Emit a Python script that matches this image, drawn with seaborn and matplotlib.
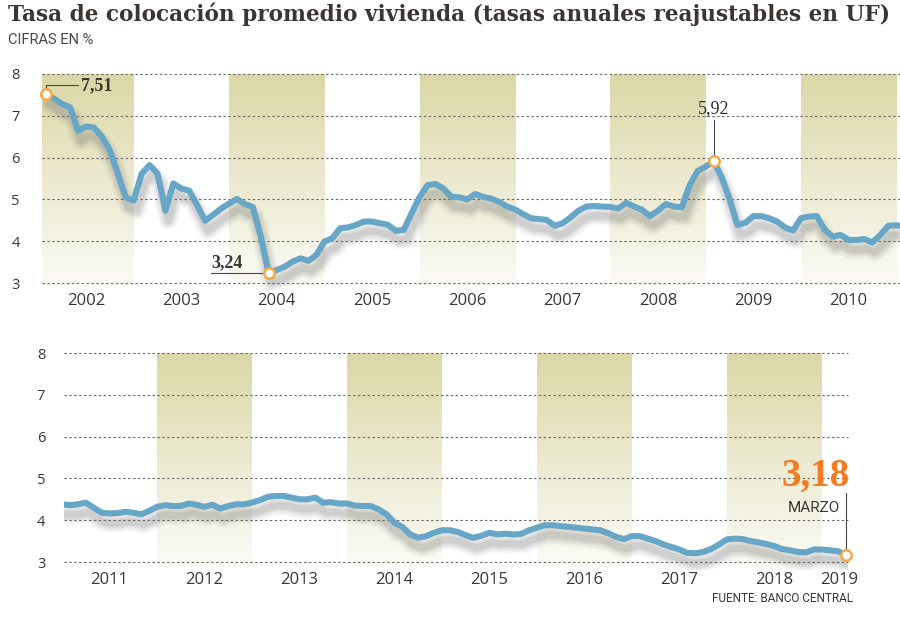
import numpy as np
import pandas as pd
import matplotlib
matplotlib.use("Agg")
import matplotlib.pyplot as plt
import seaborn as sns
from matplotlib import patheffects as pe
from matplotlib.colors import LinearSegmentedColormap

# monthly average mortgage rate (UF), Jan 2002 - Dec 2010
rates_2002_2010 = [
    7.51, 7.41, 7.28, 7.20, 6.64, 6.74, 6.72, 6.50, 6.18, 5.62, 5.05, 4.97,
    5.61, 5.82, 5.62, 4.73, 5.38, 5.26, 5.21, 4.86, 4.49, 4.63, 4.78, 4.90,
    5.01, 4.89, 4.82, 4.11, 3.24, 3.31, 3.39, 3.51, 3.59, 3.53, 3.67, 3.99,
    4.07, 4.31, 4.33, 4.39, 4.47, 4.47, 4.43, 4.39, 4.25, 4.27, 4.67, 5.06,
    5.34, 5.37, 5.26, 5.06, 5.05, 5.00, 5.13, 5.06, 5.02, 4.94, 4.83, 4.76,
    4.65, 4.55, 4.53, 4.51, 4.37, 4.43, 4.57, 4.73, 4.83, 4.84, 4.83, 4.82,
    4.78, 4.92, 4.83, 4.75, 4.60, 4.73, 4.89, 4.83, 4.81, 5.34, 5.68, 5.78,
    5.92, 5.54, 5.02, 4.39, 4.44, 4.60, 4.60, 4.55, 4.47, 4.33, 4.25, 4.55,
    4.59, 4.60, 4.27, 4.11, 4.15, 4.03, 4.03, 4.05, 3.97, 4.15, 4.37, 4.38,
]
# Jan 2011 - Mar 2019
rates_2011_2019 = [
    4.36, 4.38, 4.42, 4.30, 4.18, 4.16, 4.17, 4.20, 4.18, 4.14, 4.22, 4.32,
    4.36, 4.34, 4.34, 4.40, 4.37, 4.32, 4.37, 4.28, 4.34, 4.38, 4.38, 4.42,
    4.48, 4.56, 4.58, 4.58, 4.54, 4.50, 4.50, 4.54, 4.42, 4.43, 4.40, 4.40,
    4.35, 4.34, 4.34, 4.26, 4.14, 3.94, 3.84, 3.66, 3.58, 3.62, 3.70, 3.76,
    3.76, 3.72, 3.64, 3.58, 3.63, 3.70, 3.66, 3.68, 3.66, 3.67, 3.76, 3.82,
    3.88, 3.88, 3.86, 3.84, 3.82, 3.80, 3.78, 3.76, 3.69, 3.60, 3.55, 3.62,
    3.62, 3.56, 3.50, 3.42, 3.36, 3.30, 3.22, 3.21, 3.24, 3.31, 3.42, 3.54,
    3.56, 3.55, 3.50, 3.47, 3.43, 3.38, 3.31, 3.28, 3.24, 3.23, 3.30, 3.30,
    3.28, 3.26, 3.18,
]
years_top = [2002, 2003, 2004, 2005, 2006, 2007, 2008, 2009, 2010]
years_bottom = [2011, 2012, 2013, 2014, 2015, 2016, 2017, 2018, 2019]
shaded_top = [2002, 2004, 2006, 2008, 2010]
shaded_bottom = [2012, 2014, 2016, 2018]
yticks = [3, 4, 5, 6, 7, 8]

months = pd.date_range("2002-01-01", periods=len(rates_2002_2010) + len(rates_2011_2019), freq="MS")
df = pd.DataFrame({
    "t": months.year + months.month / 12.0,
    "rate": rates_2002_2010 + rates_2011_2019,
})
top = df.iloc[:109]
bottom = df.iloc[107:]

BLUE = "#67a6c6"
DARK = "#3b3632"
ORANGE_EDGE = "#f6a846"
band_cmap = LinearSegmentedColormap.from_list("band", ["#fbfbf6", "#dbd7a6"])

sns.set_style("white")
plt.rcParams["font.family"] = ["Open Sans", "DejaVu Sans"]

fig = plt.figure(figsize=(9, 6.18), dpi=100)
ax_top = fig.add_axes([0.0467, 0.5285, 0.9533, 0.3518])
ax_bot = fig.add_axes([0.0711, 0.0770, 0.8706, 0.3518])

shadow = [
    pe.SimpleLineShadow(offset=(2, -7), shadow_color="#666666", alpha=0.05, linewidth=14),
    pe.SimpleLineShadow(offset=(2, -7), shadow_color="#666666", alpha=0.07, linewidth=11),
    pe.SimpleLineShadow(offset=(2, -7), shadow_color="#666666", alpha=0.10, linewidth=8),
    pe.SimpleLineShadow(offset=(2, -7), shadow_color="#666666", alpha=0.12, linewidth=5),
    pe.Normal(),
]


def draw_panel(ax, data, xlim, shaded, years, label_pos, ypad):
    grad = np.linspace(0, 1, 256).reshape(-1, 1)
    for yr in shaded:
        ax.imshow(grad, extent=[yr, yr + 1, 2.95, 8], origin="lower", cmap=band_cmap,
                  aspect="auto", zorder=0, interpolation="bilinear")
    for v in yticks:
        ax.axhline(v, color="#6e6a66", lw=0.8, ls=(0, (2.2, 2.2)), zorder=1, clip_on=False)
    sns.lineplot(data=data, x="t", y="rate", ax=ax, color=BLUE, lw=4.4,
                 solid_joinstyle="round", solid_capstyle="round",
                 path_effects=shadow, zorder=3)
    ax.set_xlim(*xlim)
    ax.set_ylim(2.8, 8)
    ax.set_yticks(yticks)
    ax.set_yticklabels([str(v) for v in yticks], fontsize=10.5, color=DARK)
    ax.set_xticks(label_pos)
    ax.set_xticklabels([str(y) for y in years], fontsize=12, color=DARK)
    ax.tick_params(axis="y", length=0, pad=ypad)
    ax.tick_params(axis="x", length=0, pad=1)
    ax.set_xlabel("")
    ax.set_ylabel("")
    ax.grid(False)
    sns.despine(ax=ax, left=True, bottom=True)


draw_panel(ax_top, top, (2002.039, 2011.039), shaded_top, years_top,
           [y + 0.5 for y in years_top], 16)
draw_panel(ax_bot, bottom, (2011.021, 2019.27), shaded_bottom, years_bottom,
           [y + 0.5 for y in years_bottom[:-1]] + [2019.18], 13.5)

circle = dict(marker="o", ms=7.5, mfc="white", mec=ORANGE_EDGE, mew=1.8, zorder=5, clip_on=False)
lead = dict(color="#4a4541", lw=0.8, zorder=4)
serif = ["Liberation Serif", "DejaVu Serif"]

# 7,51
x0, v0 = top["t"].iloc[0], top["rate"].iloc[0]
ax_top.plot([x0, x0, 2002.42], [v0, 7.74, 7.74], **lead)
ax_top.plot([x0], [v0], **circle)
ax_top.text(2002.45, 7.73, "7,51", fontsize=13, fontweight="bold", color=DARK,
            family=serif, va="center", ha="left")

# 3,24
i_min = top["rate"].idxmin()
x1, v1 = top.loc[i_min, "t"], top.loc[i_min, "rate"]
ax_top.plot([2003.81, x1], [v1, v1], **lead)
ax_top.plot([x1], [v1], **circle)
ax_top.text(2003.81, v1 + 0.05, "3,24", fontsize=13, fontweight="bold", color=DARK,
            family=serif, va="bottom", ha="left")

# 5,92
late = top[top["t"] > 2008.5]
i_pk = late["rate"].idxmax()
x2, v2 = top.loc[i_pk, "t"], top.loc[i_pk, "rate"]
ax_top.plot([x2, x2], [v2, 6.9], **lead)
ax_top.plot([x2], [v2], **circle)
ax_top.text(x2, 6.98, "5,92", fontsize=13, color="#2e2a27", family=serif,
            va="bottom", ha="center")

# 3,18 marzo
x3, v3 = bottom["t"].iloc[-1], bottom["rate"].iloc[-1]
ax_bot.plot([x3, x3], [v3, 4.65], clip_on=False, **lead)
ax_bot.plot([x3], [v3], **circle)
ax_bot.text(x3 + 0.04, 4.60, "3,18", fontsize=28, fontweight="bold", color="#f47a22",
            family=serif, va="bottom", ha="right")
ax_bot.text(x3 - 0.06, 4.29, "MARZO", fontsize=11, color=DARK,
            family=["Roboto", "DejaVu Sans"], va="center", ha="right")

fig.text(8 / 900, 1 - 14 / 618, "Tasa de colocación promedio vivienda (tasas anuales reajustables en UF)",
         fontsize=15.6, fontweight="bold", color=DARK, family=["DejaVu Serif"], va="center", ha="left")
fig.text(8 / 900, 1 - 40 / 618, "CIFRAS EN %", fontsize=10.5, color="#4a4541",
         family=["Roboto", "DejaVu Sans"], va="center", ha="left")
fig.text(853 / 900, 1 - 598 / 618, "FUENTE: BANCO CENTRAL", fontsize=8.5, color=DARK,
         family=["Roboto", "DejaVu Sans"], va="center", ha="right")

fig.savefig("out.png", dpi=100, facecolor="white")
